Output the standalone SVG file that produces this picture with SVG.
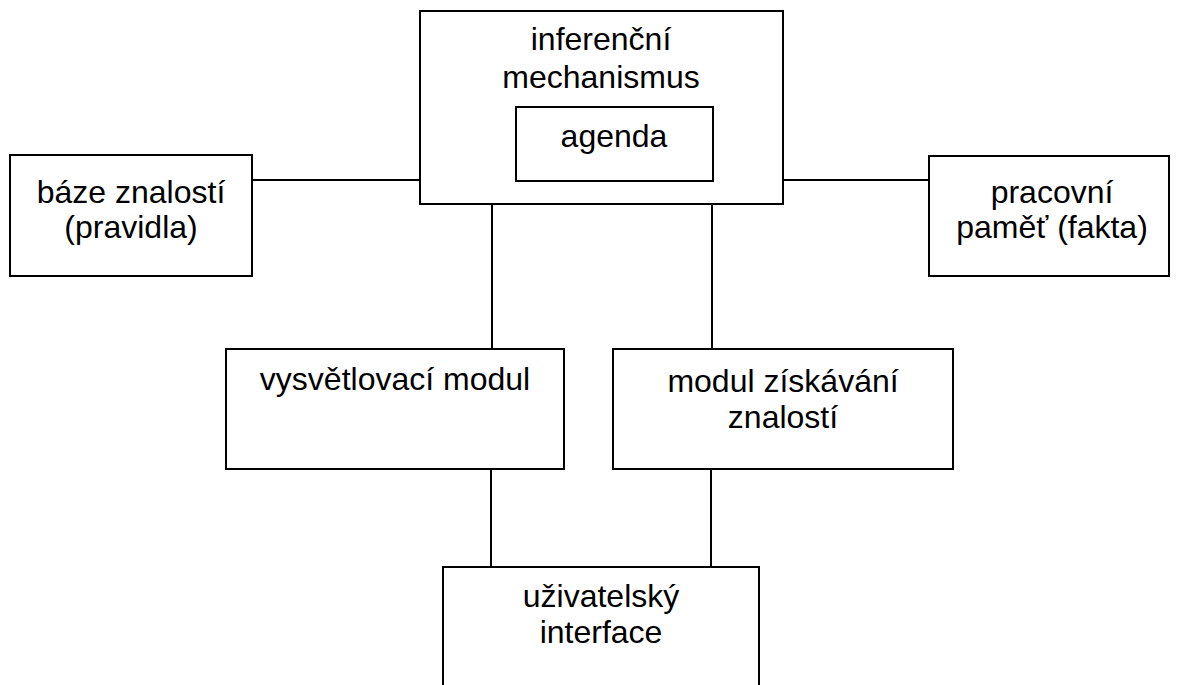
<svg xmlns="http://www.w3.org/2000/svg" width="1177" height="685" viewBox="0 0 1177 685">
  <style>
    .box { fill: #ffffff; stroke: #000000; stroke-width: 2; }
    .link { fill: none; stroke: #000000; stroke-width: 2; }
    .label { font-family: "Liberation Sans", Arial, sans-serif; font-size: 32px; fill: #000000; text-anchor: middle; }
  </style>
  <rect width="1177" height="685" fill="#ffffff"/>

  <!-- connectors -->
  <g id="connectors">
    <line class="link" x1="252" y1="180" x2="420" y2="180"/>
    <line class="link" x1="783" y1="180" x2="929" y2="180"/>
    <line class="link" x1="492" y1="204" x2="492" y2="349"/>
    <line class="link" x1="712" y1="204" x2="712" y2="349"/>
    <line class="link" x1="491" y1="469" x2="491" y2="567"/>
    <line class="link" x1="711" y1="469" x2="711" y2="567"/>
  </g>

  <!-- inference engine with its agenda -->
  <g id="inferencni-mechanismus">
    <rect class="box" x="420" y="11" width="363" height="193"/>
    <text class="label" x="601" y="50">inferenční</text>
    <text class="label" x="601" y="88">mechanismus</text>
  </g>
  <g id="agenda">
    <rect class="box" x="516" y="107" width="197" height="74"/>
    <text class="label" x="614" y="147">agenda</text>
  </g>

  <g id="baze-znalosti">
    <rect class="box" x="10" y="155" width="242" height="121"/>
    <text class="label" x="131" y="203">báze znalostí</text>
    <text class="label" x="131" y="238">(pravidla)</text>
  </g>

  <g id="pracovni-pamet">
    <rect class="box" x="929" y="156" width="240" height="120"/>
    <text class="label" x="1052" y="203">pracovní</text>
    <text class="label" x="1052" y="238">paměť (fakta)</text>
  </g>

  <g id="vysvetlovaci-modul">
    <rect class="box" x="226" y="349" width="338" height="120"/>
    <text class="label" x="395" y="390">vysvětlovací modul</text>
  </g>

  <g id="modul-ziskavani-znalosti">
    <rect class="box" x="613" y="349" width="340" height="120"/>
    <text class="label" x="783" y="392">modul získávání</text>
    <text class="label" x="783" y="428">znalostí</text>
  </g>

  <g id="uzivatelsky-interface">
    <rect class="box" x="443" y="567" width="316" height="140"/>
    <text class="label" x="601" y="607">uživatelský</text>
    <text class="label" x="601" y="643">interface</text>
  </g>
</svg>
